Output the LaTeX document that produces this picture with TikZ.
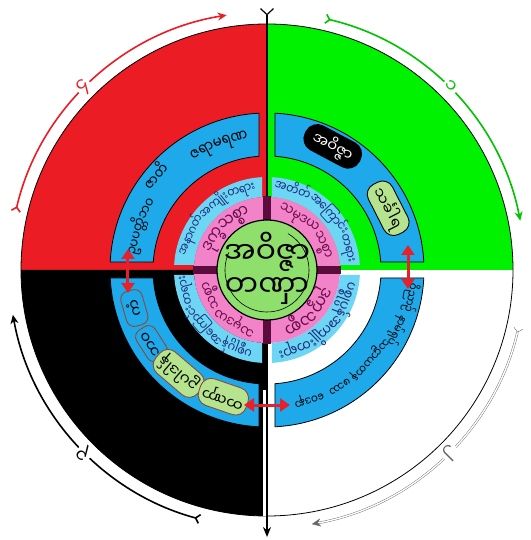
\documentclass[tikz,border=0pt]{standalone}
\usepackage{fontspec}
\newfontfamily\mm[Script=Myanmar]{Noto Sans Myanmar UI}
\usetikzlibrary{arrows.meta}
\definecolor{qred}{HTML}{EC1C24}
\definecolor{qgreen}{HTML}{00F200}
\definecolor{band}{HTML}{1EA9EB}
\definecolor{lblue}{HTML}{6DD6F4}
\definecolor{pinkr}{HTML}{F283C9}
\definecolor{cgreen}{HTML}{8FDF6C}
\definecolor{maroonbar}{HTML}{5C0B3D}
\definecolor{boxg}{HTML}{B6E48E}
\definecolor{boxo}{HTML}{8A4A3A}
\definecolor{navytxt}{HTML}{1B2A7A}
\definecolor{ptext}{HTML}{6A0B4C}
\definecolor{arrred}{HTML}{E8202A}
\newlength\mmw
\newcount\mmcnt
\newsavebox\mmbox
\def\mmsx{0.85}
\newcommand\mmmeasure[2]{%
  \pgfinterruptpicture
  \global\setbox\mmbox=\hbox{\mm\fontsize{#1}{#1}\selectfont #2}%
  \endpgfinterruptpicture
  \global\mmw=\mmsx\wd\mmbox
}
\newcommand\arcplace[5]{%
  \pgfmathsetmacro\mmbr{#1-0.28*#3}%
  \xdef\mmcur{#2}%
  \foreach \cl in {#5}{%
    \mmmeasure{#3}{\cl}%
    \pgfmathsetmacro\mmdang{\mmw/#1*180/pi}%
    \pgfmathsetmacro\mmmid{\mmcur-\mmdang/2}%
    \global\advance\mmcnt by 1
    \node[text=#4,inner sep=0pt,anchor=base,rotate=\mmmid-90] (cl\the\mmcnt) at (\mmmid:\mmbr) {\scalebox{\mmsx}[1]{\mm\fontsize{#3}{#3}\selectfont\cl}};%
    \pgfmathsetmacro\mmtmp{\mmcur-\mmdang}%
    \global\let\mmcur\mmtmp
  }%
}
\newcommand\arcfit[6]{%
  \mmmeasure{10}{#6}%
  \pgfmathsetmacro\mmfs{10*(#3*pi/180*#1)/\mmw}%
  \pgfmathsetmacro\mmst{#2+#3/2}%
  \arcplace{#1}{\mmst}{\mmfs}{#4}{#5}%
}
\newcommand\arcfix[6]{%
  \mmmeasure{#3}{#6}%
  \pgfmathsetmacro\mmst{#2+\mmw/#1*90/pi}%
  \arcplace{#1}{\mmst}{#3}{#4}{#5}%
}
\newcommand\bandq[6]{%
  \path[fill=#5,draw=#6,line width=0.8pt] ({#1+asin(#2/#4)}:#4) arc[start angle={#1+asin(#2/#4)},end angle={#1+90-asin(#2/#4)},radius=#4] -- ({#1+90-asin(#2/#3)}:#3) arc[start angle={#1+90-asin(#2/#3)},end angle={#1+asin(#2/#3)},radius=#3] -- cycle;%
}
\tikzset{
  boxg/.style={fill=boxg,draw=boxo,line width=0.9pt,rounded corners=11pt,inner sep=1pt},
  boxo/.style={draw=boxo,line width=0.9pt,rounded corners=8pt,inner sep=1pt},
  redarr/.style={arrred,line width=3pt,{Triangle[length=10pt,width=13pt]}-{Triangle[length=10pt,width=13pt]}},
  cyc/.style={line width=1.6pt,{Straight Barb[reversed,length=4pt,width=9pt]}-{Stealth[length=9pt,width=8pt]}},
  digit/.style={fill=white,inner sep=2pt,font=\mm\fontsize{18}{18}\selectfont},
  bandtxt/.style={font=\mm\fontsize{15}{15}\selectfont}
}
\begin{document}
\begin{tikzpicture}[x=1pt,y=1pt]
\useasboundingbox (-267,-270) rectangle (263,270);
% quadrants
\fill[qgreen] (0,0) -- (0:246) arc[start angle=0,end angle=90,radius=246] -- cycle;
\fill[qred] (0,0) -- (90:246) arc[start angle=90,end angle=180,radius=246] -- cycle;
\fill[black] (0,0) -- (180:246) arc[start angle=180,end angle=270,radius=246] -- cycle;
\draw[line width=0.8pt] (0,0) circle[radius=246];
% central vertical arrow
\coordinate (vtop) at (0,262);
\coordinate (vbot) at (0,-267);
\fill[white] (-4,-120) rectangle (0,-246);
\draw[line width=1.2pt,{Straight Barb[reversed,length=6pt,width=13pt]}-{Stealth[length=10pt,width=8pt]}] (vtop) -- (vbot);
% blue bands
\bandq{0}{8}{114}{157}{band}{black}
\bandq{90}{8}{114}{157}{band}{black}
\bandq{180}{8}{114}{157}{band}{black}
\bandq{270}{8}{114}{157}{band}{black}
% light blue ring
\bandq{0}{5}{73}{93}{lblue}{none}
\bandq{90}{5}{73}{93}{lblue}{none}
\bandq{180}{5}{73}{93}{lblue}{none}
\bandq{270}{5}{73}{93}{lblue}{none}
% pink ring
\fill[pinkr] (0,0) circle[radius=73];
\foreach \a in {0,90,180,270} \draw[maroonbar,line width=8pt] (\a:48) -- (\a:74);
% centre
\node[circle,fill=cgreen,draw=black,line width=1.2pt,minimum size=100pt,inner sep=0pt] (core) at (0,0) {};
\draw[line width=0.6pt] (60:42) arc[start angle=60,end angle=-205,radius=42];
\node[inner sep=0pt] (ct1) at (0,18) {\resizebox{86pt}{!}{\mm အဝိဇ္ဇာ}};
\node[inner sep=0pt] (ct2) at (0,-21) {\resizebox{84pt}{!}{\mm တဏှာ}};
% ring texts
\arcfit{83}{134}{72}{navytxt}{အနာဂတ်,အကျိုး,တရား}{အနာဂတ်အကျိုးတရား}
\arcfit{83}{45}{80}{navytxt}{အတိတ်,အကြောင်း,တရား}{အတိတ်အကြောင်းတရား}
\arcfit{83}{-45}{74}{navytxt}{ပစ္စုပ္ပန်,အကျိုး,တရား}{ပစ္စုပ္ပန်အကျိုးတရား}
\arcfit{83}{222}{76}{navytxt}{ပစ္စုပ္ပန်,အကြောင်း,တရား}{ပစ္စုပ္ပန်အကြောင်းတရား}
\arcfit{61}{135}{56}{ptext}{ဒုက္ခ,သစ္စာ}{ဒုက္ခသစ္စာ}
\arcfit{61}{45}{68}{ptext}{သမုဒယ,သစ္စာ}{သမုဒယသစ္စာ}
\arcfit{61}{-45}{58}{ptext}{ဒုက္ခ,သစ္စာ}{ဒုက္ခသစ္စာ}
\arcfit{61}{225}{68}{ptext}{သမုဒယ,သစ္စာ}{သမုဒယသစ္စာ}
% red band texts
\arcfix{135}{111}{16}{black}{ဇရာ,မရဏ}{ဇရာမရဏ}
\arcfix{143}{140}{15}{black}{ဇာတိ}{ဇာတိ}
\arcfix{134}{161}{14}{black}{ဥပပတ္တိ,ဘဝ}{ဥပပတ္တိဘဝ}
% white band texts
\arcfix{145}{-11}{12}{black}{ဝိညာဉ်}{ဝိညာဉ်}
\arcfix{142}{-25}{12}{black}{နာမ်ရုပ်}{နာမ်ရုပ်}
\arcfix{136}{-41}{12}{black}{သဠာယတန}{သဠာယတန}
\arcfix{136}{-58}{12}{black}{ဖဿ}{ဖဿ}
\arcfix{136}{-72}{12}{black}{ဝေဒနာ}{ဝေဒနာ}
% green band boxes
\node[fill=black,rounded corners=13pt,minimum width=62pt,minimum height=28pt,rotate=-28,text=white,bandtxt] (bx1) at (62:140) {အဝိဇ္ဇာ};
\node[boxg,minimum width=56pt,minimum height=27pt,rotate=-63,bandtxt,draw=black] (bx2) at (27:136) {သင်္ခါရ};
% black band boxes
\node[boxo,minimum width=36pt,minimum height=22pt,rotate=106,bandtxt] (bx3) at (196:138) {ကံ};
\node[boxo,minimum width=36pt,minimum height=22pt,rotate=122.5,bandtxt] (bx4) at (212.5:137) {ဘဝ};
\node[boxg,minimum width=55pt,minimum height=28pt,rotate=139.5,bandtxt] (bx5) at (229.5:136) {ဥပါဒါန်};
\node[boxg,minimum width=50pt,minimum height=28pt,rotate=161,bandtxt] (bx6) at (251:134) {တဏှာ};
% red double arrows
\coordinate (la1) at (-139,21); \coordinate (la2) at (-139,-23);
\coordinate (ra1) at (141,25); \coordinate (ra2) at (141,-19);
\coordinate (ba1) at (-23,-135); \coordinate (ba2) at (23,-135);
\draw[redarr] (la1) -- (la2);
\draw[redarr] (ra1) -- (ra2);
\draw[redarr] (ba1) -- (ba2);
% outer cycle arrows
\coordinate (rs) at (167:258);
\coordinate (gs) at (77:258);
\coordinate (ws) at (-13:258);
\coordinate (ks) at (255:258);
\draw[cyc,qred] (rs) arc[start angle=167,end angle=99,radius=258];
\draw[cyc,qgreen!80!black] (gs) arc[start angle=77,end angle=11,radius=258];
\draw[cyc,gray!80!black,line width=0.4pt,double=white,double distance=1.4pt] (ws) arc[start angle=-13,end angle=-80,radius=258];
\draw[cyc,black] (ks) arc[start angle=255,end angle=190,radius=258];
\node[digit,text=qred,rotate=45] (d4) at (135:259) {၄};
\node[digit,text=qgreen!80!black,rotate=-45] (d1) at (45:259) {၁};
\node[digit,text=gray!80!black,rotate=-135] (d2) at (-45:259) {၂};
\node[digit,text=black,rotate=135] (d3) at (225:259) {၃};
\end{tikzpicture}
\end{document}
